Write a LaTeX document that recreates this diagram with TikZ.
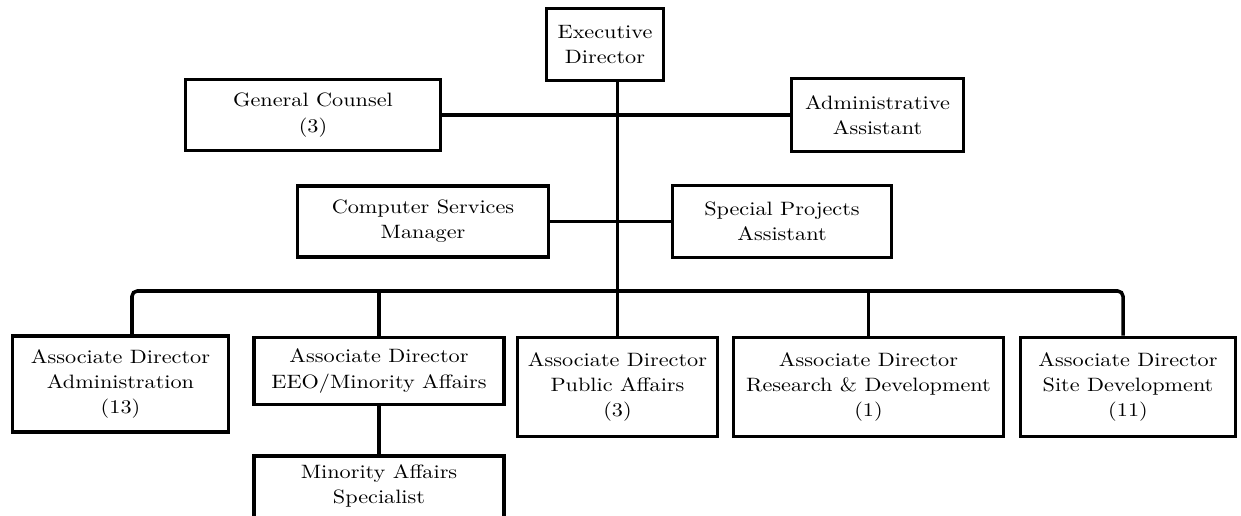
\documentclass[tikz,border=0pt]{standalone}
\usepackage{fontspec}
\setmainfont{lmroman10-regular.otf}[FakeStretch=1.15]
\usepackage{tikz}
\usetikzlibrary{positioning}

\begin{document}
\begin{tikzpicture}[
 post/.style={draw,line width=2pt,fill=white,align=center,inner sep=2pt,
   font=\fontsize{11}{14.4}\selectfont},
 wire/.style={line width=2pt}]
\useasboundingbox (0,0) rectangle (24.82,10.30);
% top of the chart
\node[post,minimum width=2.34cm,minimum height=1.44cm] (exec) at (12.10,9.41) {Executive\\Director};
\node[post,minimum width=5.10cm,minimum height=1.42cm] (gc) at (6.26,8.00) {General Counsel\\(3)};
\node[post,minimum width=3.44cm,minimum height=1.46cm] (aa) at (17.55,8.00) {Administrative\\Assistant};
\node[post,minimum width=5.02cm,minimum height=1.42cm] (cs) at (8.46,5.87) {Computer Services\\Manager};
\node[post,minimum width=4.38cm,minimum height=1.44cm] (sp) at (15.64,5.87) {Special Projects\\Assistant};
% associate directors
\node[post,minimum width=4.32cm,minimum height=1.92cm] (adm) at (2.41,2.62) {Associate Director\\Administration\\(13)};
\node[post,minimum width=5.00cm,minimum height=1.34cm] (eeo) at (7.58,2.88) {Associate Director\\EEO/Minority Affairs};
\node[post,minimum width=4.00cm,minimum height=1.98cm] (pa) at (12.35,2.56) {Associate Director\\Public Affairs\\(3)};
\node[post,minimum width=5.40cm,minimum height=1.98cm] (rd) at (17.37,2.56) {Associate Director\\Research \& Development\\(1)};
\node[post,minimum width=4.30cm,minimum height=1.98cm] (site) at (22.56,2.56) {Associate Director\\Site Development\\(11)};
\node[post,minimum width=5.00cm,anchor=north,inner ysep=5pt,text depth=1.2cm] (msp) at (7.58,1.22) {Minority Affairs\\Specialist};
% connectors
\draw[wire] (exec.south -| pa.north) -- (pa.north);
\draw[wire] (gc.east) -- (aa.west);
\draw[wire] (cs.east) -- (sp.west);
\coordinate (busw) at (2.64,4.48);
\coordinate (buse) at (22.46,4.48);
\draw[wire,rounded corners=3pt] (adm.north -| busw) -- (busw) -- (buse) -- (site.north -| buse);
\draw[wire] (eeo.north |- busw) -- (eeo.north);
\draw[wire] (rd.north |- busw) -- (rd.north);
\draw[wire] (eeo.south) -- (msp.north);
\end{tikzpicture}
\end{document}
